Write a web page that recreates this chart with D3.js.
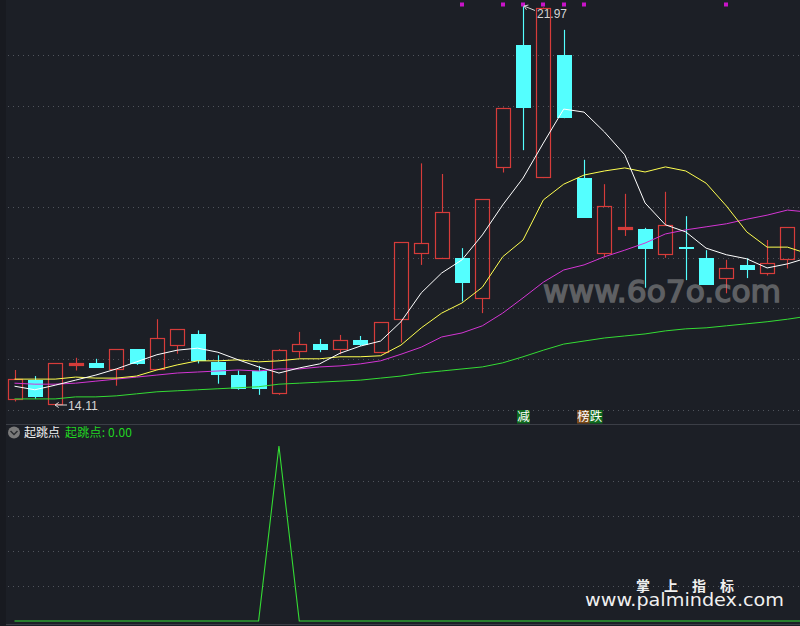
<!DOCTYPE html>
<html><head><meta charset="utf-8">
<script src="https://cdn.jsdelivr.net/npm/d3@7/dist/d3.min.js"></script>
<style>html,body{margin:0;padding:0;background:#1c1f26;overflow:hidden}svg{display:block}</style>
</head><body><svg id="c" width="800" height="626"></svg>
<script>
const opens=[14.22,14.61,14.12,14.90,14.93,14.81,15.21,14.81,15.29,15.51,14.96,14.70,14.77,14.34,15.18,15.31,15.22,15.39,15.16,15.80,17.11,17.01,17.00,16.21,18.79,21.20,18.60,21.00,18.59,17.10,17.57,17.57,17.09,17.22,17.00,16.62,16.86,16.72,16.98];
const closes=[14.62,14.27,14.93,14.93,14.84,15.21,14.92,15.42,15.60,14.98,14.70,14.43,14.43,15.19,15.31,15.19,15.40,15.29,15.74,17.32,17.30,17.91,16.52,18.16,19.97,19.97,21.94,19.77,17.80,18.04,17.62,17.18,17.66,17.18,16.48,16.80,16.76,16.91,17.61];
const highs=[14.80,14.68,14.93,15.04,15.02,15.21,15.21,15.80,15.60,15.58,15.09,14.79,14.88,15.21,15.55,15.41,15.49,15.47,15.74,17.32,18.87,18.66,17.20,18.16,19.97,21.97,21.94,21.50,18.94,18.46,18.27,17.60,18.31,17.83,17.16,16.97,17.00,17.36,17.61];
const lows=[14.18,14.23,14.11,14.79,14.84,14.49,14.90,14.80,15.12,14.93,14.53,14.41,14.31,14.31,15.04,15.15,15.11,15.27,15.13,15.34,16.87,17.01,16.15,15.92,18.69,19.13,18.58,19.76,17.80,17.02,17.44,16.42,17.01,16.57,16.48,16.31,16.61,16.66,16.80];
const maWhite=[14.48,14.41,14.50,14.60,14.70,14.82,14.96,15.10,15.19,15.23,15.15,15.00,14.86,14.74,14.84,14.92,15.13,15.27,15.37,15.75,16.32,16.71,16.97,17.46,18.05,18.58,19.27,19.94,19.88,19.49,19.04,18.09,17.66,17.52,17.20,17.07,16.99,16.81,16.89,17.01];
const maYellow=[14.62,14.62,14.62,14.66,14.64,14.64,14.68,14.80,14.90,14.98,14.98,15.00,14.96,14.98,15.02,15.02,15.06,15.06,15.08,15.29,15.63,15.92,16.12,16.43,17.03,17.36,18.15,18.46,18.64,18.72,18.78,18.70,18.80,18.72,18.48,18.03,17.52,17.22,17.22,17.09];
const maMagenta=[14.54,14.52,14.52,14.54,14.58,14.62,14.66,14.70,14.74,14.76,14.78,14.80,14.78,14.82,14.82,14.86,14.88,14.92,14.98,15.11,15.25,15.45,15.53,15.67,15.92,16.22,16.53,16.77,16.87,17.03,17.16,17.30,17.48,17.56,17.62,17.68,17.77,17.85,17.95,17.91];
const maGreen=[14.23,14.23,14.23,14.27,14.27,14.29,14.33,14.37,14.39,14.41,14.43,14.45,14.47,14.52,14.54,14.56,14.58,14.60,14.64,14.68,14.74,14.78,14.82,14.86,14.94,15.06,15.19,15.31,15.37,15.43,15.47,15.51,15.57,15.61,15.63,15.67,15.71,15.75,15.80,15.86];
const jumpValues=[0,0,0,0,0,0,0,0,0,0,0,0,0,1,0,0,0,0,0,0,0,0,0,0,0,0,0,0,0,0,0,0,0,0,0,0,0,0,0,0];
const signalIdx=[22,24,25,26,27,28,35];
const gridTop=[55.5,106,157,207.5,258,308.5,359,410];
const gridBottom=[481,516,551,586];
const lowLabel="14.11", highLabel="21.97";
const panelTitle="起跳点", panelValue="起跳点: 0.00";

const BG="#1c1f26",RED="#d63c3a",CYAN="#54ffff";
const svg=d3.select("#c");
svg.append("rect").attr("width",800).attr("height",626).attr("fill",BG);
svg.append("rect").attr("width",6).attr("height",626).attr("fill","#181a20");
const x=d3.scaleLinear().domain([0,39]).range([14.5,807.8]);
const y=d3.scaleLinear().domain([14.11,21.97]).range([405,6]);
const y2=d3.scaleLinear().domain([0,1]).range([621,446]);

// grid
svg.append("g").selectAll("line").data(gridTop.concat(gridBottom)).join("line")
 .attr("x1",8).attr("x2",800).attr("y1",d=>Math.floor(d)+.5).attr("y2",d=>Math.floor(d)+.5)
 .attr("stroke","#50545c").attr("stroke-width",1).attr("stroke-dasharray","1 4");
// separators
[424.5,624.5].forEach(v=>svg.append("line").attr("x1",6).attr("x2",800).attr("y1",v).attr("y2",v).attr("stroke","#3b3e46"));

// candles
const cs=svg.append("g");
opens.forEach((o,i)=>{
  const c=closes[i],up=c>=o,col=up?RED:CYAN,cx=Math.round(x(i))+.5;
  const top=Math.round(y(Math.max(o,c))),bot=Math.round(y(Math.min(o,c)));
  const g=cs.append("g");
  g.append("line").attr("x1",cx).attr("x2",cx).attr("y1",y(highs[i])).attr("y2",top).attr("stroke",col).attr("stroke-width",1.15);
  g.append("line").attr("x1",cx).attr("x2",cx).attr("y1",bot).attr("y2",y(lows[i])).attr("stroke",col).attr("stroke-width",1.15);
  if(up){
    g.append("rect").attr("x",cx-7).attr("y",top+.5).attr("width",14).attr("height",Math.max(bot-top,1)).attr("fill",bot-top<3?col:"none").attr("stroke",col).attr("stroke-width",1.2);
  }else{
    g.append("rect").attr("x",cx-7.5).attr("y",top).attr("width",15).attr("height",Math.max(bot-top,2)).attr("fill",col);
  }
});

// moving averages
const line=d3.line().x((d,i)=>x(i)).y(d=>y(d));
[[maGreen,"#34dc34"],[maMagenta,"#d435d4"],[maYellow,"#ffff50"],[maWhite,"#ffffff"]].forEach(([s,c])=>{
  svg.append("path").attr("d",line(s)).attr("fill","none").attr("stroke",c).attr("stroke-width",1);
});

// signals
svg.append("g").selectAll("rect").data(signalIdx).join("rect")
 .attr("x",d=>Math.round(x(d))-2).attr("y",2.5).attr("width",4).attr("height",4).attr("fill","#c814c8");

// hi/lo annotations
const F="'Liberation Sans',Arial,sans-serif", CJK="'Noto Sans CJK SC',sans-serif";
const lbl="#d4d4d4";
function arrow(x0,y0,x1,y1){
  svg.append("line").attr("x1",x0).attr("y1",y0).attr("x2",x1).attr("y2",y1).attr("stroke",lbl);
  const a=Math.atan2(y0-y1,x0-x1),L=4.5;
  [a+.6,a-.6].forEach(t=>svg.append("line").attr("x1",x1).attr("y1",y1).attr("x2",x1+L*Math.cos(t)).attr("y2",y1+L*Math.sin(t)).attr("stroke",lbl));
}
arrow(67,y(14.11),55,y(14.11));
svg.append("text").attr("x",68).attr("y",409.5).attr("font-family",F).attr("font-size",13).attr("textLength",30).attr("lengthAdjust","spacingAndGlyphs").attr("fill",lbl).text(lowLabel);
arrow(535,10.5,524,6);
svg.append("text").attr("x",537).attr("y",17.5).attr("font-family",F).attr("font-size",13).attr("textLength",30).attr("lengthAdjust","spacingAndGlyphs").attr("fill",lbl).text(highLabel);

// tags
function tag(px,t,bg){
  svg.append("rect").attr("x",px).attr("y",410).attr("width",13).attr("height",13.5).attr("fill",bg);
  svg.append("text").attr("x",px+6.5).attr("y",421).attr("text-anchor","middle").attr("font-family",CJK).attr("font-size",12.5).attr("fill","#fff").text(t);
}
tag(517,"减","#0f6a1e");tag(577,"榜","#7a4a1a");tag(589.5,"跌","#0f6a1e");

// lower panel
svg.append("circle").attr("cx",14).attr("cy",432.5).attr("r",6).attr("fill","#7a7a7a");
svg.append("path").attr("d","M10.5 431l3.5 3.5l3.5-3.5").attr("fill","none").attr("stroke","#2a2c30").attr("stroke-width",1.5);
svg.append("text").attr("x",24).attr("y",437).attr("font-family",CJK).attr("font-size",12).attr("fill","#f0f0f0").text(panelTitle);
svg.append("text").attr("x",65).attr("y",437).attr("font-family",CJK).attr("font-size",12).attr("textLength",67).attr("fill","#22d622").text(panelValue);
svg.append("path").attr("d",d3.line().x((d,i)=>x(i)).y(d=>y2(d))(jumpValues)).attr("fill","none").attr("stroke","#34dc34").attr("stroke-width",1.1);

// watermarks
svg.append("text").attr("x",543).attr("y",302).attr("font-family","'DejaVu Sans',sans-serif").attr("font-size",30).attr("textLength",238).attr("lengthAdjust","spacingAndGlyphs").attr("fill","#a0a0a0").attr("stroke","#a0a0a0").attr("stroke-width",1.4).attr("opacity",.5).text("www.6o7o.com");
svg.append("text").attr("x",636).attr("y",591).attr("font-family",CJK).attr("font-weight","bold").attr("font-size",14).attr("textLength",98).attr("fill","#f0f0f0").text("掌上指标");
svg.append("text").attr("x",585).attr("y",606).attr("font-family","'DejaVu Sans',sans-serif").attr("font-size",17).attr("textLength",199).attr("lengthAdjust","spacingAndGlyphs").attr("fill","#f0f0f0").text("www.palmindex.com");
</script></body></html>
